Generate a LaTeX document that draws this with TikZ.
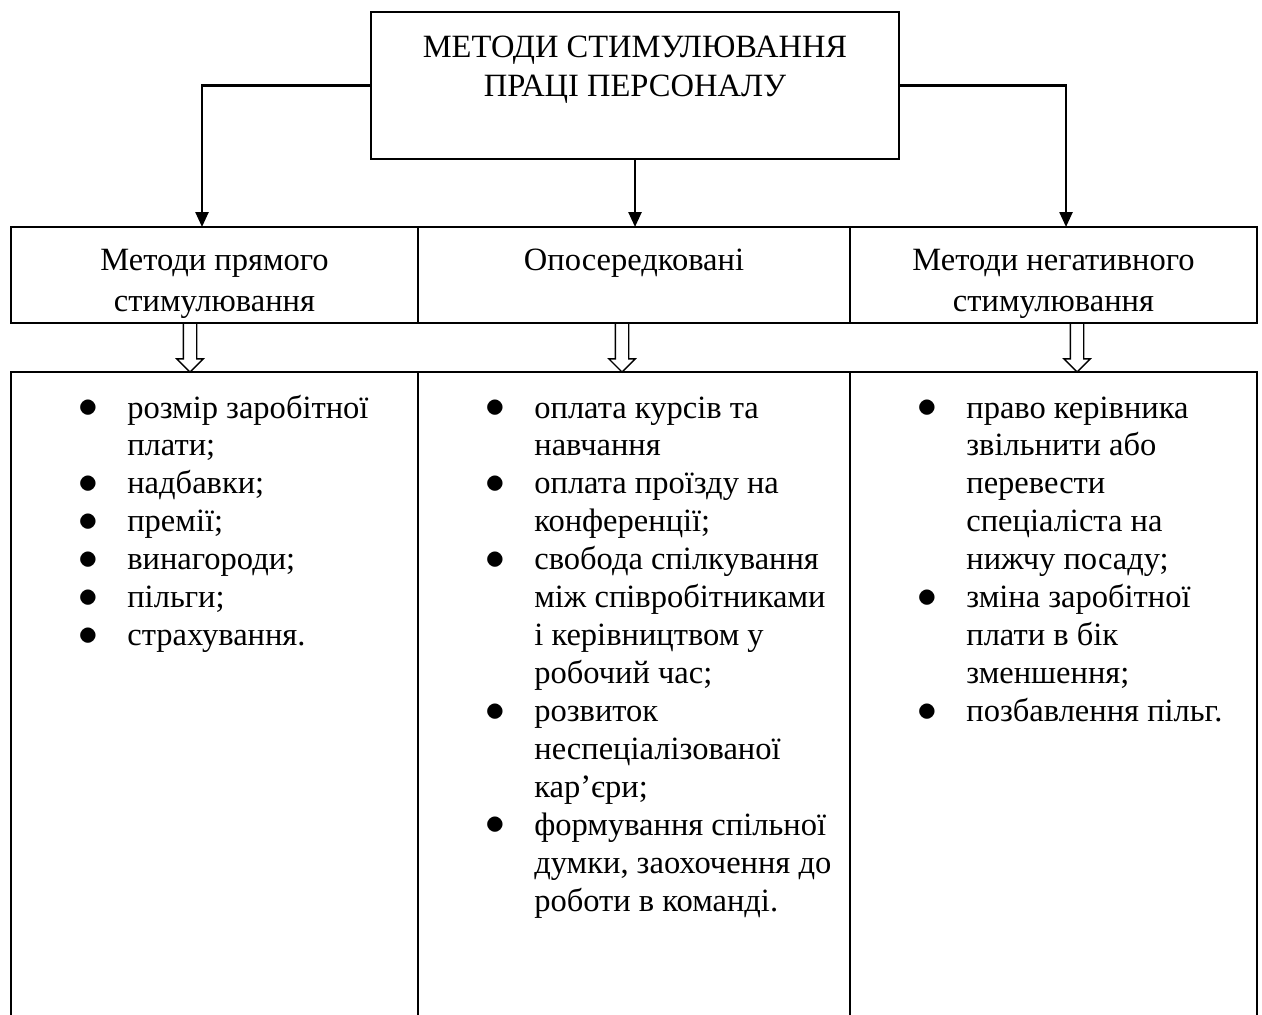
\documentclass[tikz,border=0pt]{standalone}
\usepackage{fontspec}
\setmainfont{Liberation Serif}
\usetikzlibrary{arrows.meta,shapes.arrows,positioning,calc}

\newcommand{\pnt}{\raisebox{0.02em}{\scalebox{1.3}{$\bullet$}}}

\tikzset{
  frame/.style={draw, line width=1.1pt, outer sep=0pt},
  topbox/.style={frame, minimum width=10.56cm, minimum height=2.95cm, align=center,
    font=\fontsize{18.5}{22.2}\selectfont},
  headbox/.style={frame, inner ysep=0pt, text height=1.68cm, text depth=0.24cm, align=center,
    font=\fontsize{18.5}{22.8}\selectfont},
  listbox/.style={frame, minimum height=13.4cm},
  items/.style={anchor=base west, inner sep=0pt, font=\fontsize{18.5}{21.6}\selectfont},
  hollow/.style={single arrow, draw, line width=0.8pt, rotate=-90, anchor=tail,
    minimum height=0.98cm, inner sep=0.12cm, outer sep=0pt, single arrow head extend=0.13cm},
  link/.style={draw, line width=1.4pt, ->},
}

\begin{document}
\begin{tikzpicture}[>={Triangle[length=0.3cm,width=0.26cm]}]
  \clip (0,0) rectangle (25.24,-20.28);
  % Nodes
  \node[topbox] (top) at (12.7,-1.71) {МЕТОДИ СТИМУЛЮВАННЯ\\ ПРАЦІ ПЕРСОНАЛУ\\ \mbox{}};
  \node[headbox, minimum width=8.14cm] (h1) at (4.29,-5.5) {Методи прямого\\ стимулювання};
  \node[headbox, minimum width=8.64cm, right=0cm of h1] (h2) {Опосередковані\\ \mbox{}};
  \node[headbox, minimum width=8.14cm, right=0cm of h2] (h3) {Методи негативного\\ стимулювання};
  \node[listbox, minimum width=8.14cm, below=0.98cm of h1] (b1) {};
  \node[listbox, minimum width=8.64cm, below=0.98cm of h2] (b2) {};
  \node[listbox, minimum width=8.14cm, below=0.98cm of h3] (b3) {};
  % Lists
  \node[items] (t1) at ($(b1.north west)+(1.34,-0.92)$) {\begin{tabular}[t]{@{}p{0.98cm}@{}l@{}}
    \pnt & розмір заробітної\\
         & плати;\\
    \pnt & надбавки;\\
    \pnt & премії;\\
    \pnt & винагороди;\\
    \pnt & пільги;\\
    \pnt & страхування.
  \end{tabular}};
  \node[items] (t2) at ($(b2.north west)+(1.34,-0.92)$) {\begin{tabular}[t]{@{}p{0.98cm}@{}l@{}}
    \pnt & оплата курсів та\\
         & навчання\\
    \pnt & оплата проїзду на\\
         & конференції;\\
    \pnt & свобода спілкування\\
         & між співробітниками\\
         & і керівництвом у\\
         & робочий час;\\
    \pnt & розвиток\\
         & неспеціалізованої\\
         & кар’єри;\\
    \pnt & формування спільної\\
         & думки, заохочення до\\
         & роботи в команді.
  \end{tabular}};
  \node[items] (t3) at ($(b3.north west)+(1.34,-0.92)$) {\begin{tabular}[t]{@{}p{0.98cm}@{}l@{}}
    \pnt & право керівника\\
         & звільнити або\\
         & перевести\\
         & спеціаліста на\\
         & нижчу посаду;\\
    \pnt & зміна заробітної\\
         & плати в бік\\
         & зменшення;\\
    \pnt & позбавлення пільг.
  \end{tabular}};
  % Hollow arrows
  \node[hollow] (a1) at ([xshift=-0.49cm]h1.south) {};
  \node[hollow] (a2) at ([xshift=-0.24cm]h2.south) {};
  \node[hollow] (a3) at ([xshift=0.47cm]h3.south) {};
  % Edges
  \draw[link] (top.west) -| ([xshift=-0.25cm]h1.north);
  \draw[link] (top.south) -- (top.south |- h2.north);
  \draw[link] (top.east) -| ([xshift=0.25cm]h3.north);
\end{tikzpicture}
\end{document}
